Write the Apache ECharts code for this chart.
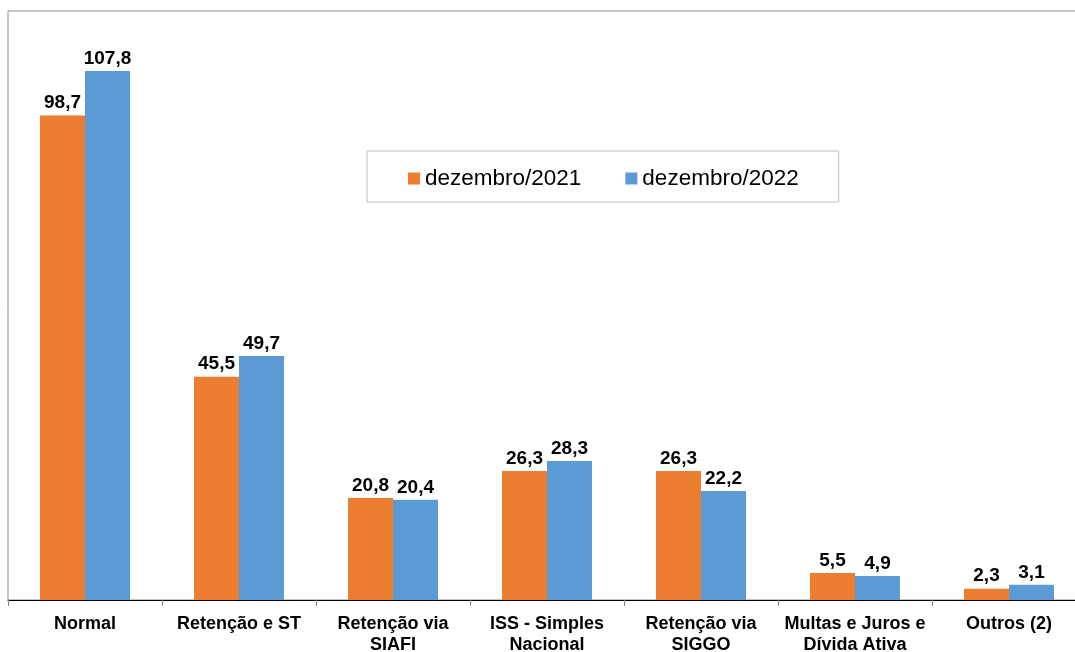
<!DOCTYPE html>
<html>
<head>
<meta charset="utf-8">
<script src="https://cdn.jsdelivr.net/npm/echarts@6/dist/echarts.min.js"></script>
<style>
  html, body { margin: 0; padding: 0; background: #fff; }
  #chart { width: 1075px; height: 652px; }
</style>
</head>
<body>
<div id="chart"></div>
<script>
var categories = ['Normal', 'Retenção e ST', 'Retenção via\nSIAFI', 'ISS - Simples\nNacional', 'Retenção via\nSIGGO', 'Multas e Juros e\nDívida Ativa', 'Outros (2)'];
var dez2021 = [98.7, 45.5, 20.8, 26.3, 26.3, 5.5, 2.3];
var dez2022 = [107.8, 49.7, 20.4, 28.3, 22.2, 4.9, 3.1];

var chartDom = document.getElementById('chart');
var myChart = echarts.init(chartDom);
var option;

function fmt(p) {
  return p.value.toFixed(1).replace('.', ',');
}

var labelStyle = {
  show: true,
  position: 'top',
  distance: 3,
  formatter: fmt,
  color: '#000',
  fontSize: 19,
  fontWeight: 'bold',
  fontFamily: 'Liberation Sans, Arial, sans-serif'
};

option = {
  animation: false,
  grid: {
    left: 8,
    top: 11,
    width: 1078,
    height: 589,
    outerBoundsMode: 'none',
    containLabel: false,
    show: true,
    borderColor: '#8c8c8c',
    borderWidth: 1
  },
  legend: {
    left: 367,
    top: 151,
    padding: [16, 40, 12, 41],
    borderColor: '#bfbfbf',
    borderWidth: 1,
    backgroundColor: '#fff',
    itemWidth: 12,
    itemHeight: 12,
    itemGap: 44,
    icon: 'rect',
    textStyle: {
      color: '#000',
      fontSize: 22.5,
      fontFamily: 'Liberation Sans, Arial, sans-serif'
    },
    data: ['dezembro/2021', 'dezembro/2022']
  },
  xAxis: {
    type: 'category',
    data: categories,
    axisLine: { lineStyle: { color: '#000', width: 1 } },
    axisTick: { show: true, length: 6, lineStyle: { color: '#888' } },
    axisLabel: {
      color: '#000',
      fontSize: 18,
      fontWeight: 'bold',
      fontFamily: 'Liberation Sans, Arial, sans-serif',
      margin: 14,
      lineHeight: 21,
      interval: 0
    }
  },
  yAxis: {
    type: 'value',
    min: 0,
    max: 120,
    axisLine: { show: false },
    axisTick: { show: false },
    axisLabel: { show: false },
    splitLine: { show: false }
  },
  series: [
    {
      name: 'dezembro/2021',
      type: 'bar',
      data: dez2021,
      barWidth: 45,
      barGap: '0%',
      itemStyle: { color: '#ED7D31' },
      label: labelStyle
    },
    {
      name: 'dezembro/2022',
      type: 'bar',
      data: dez2022,
      barWidth: 45,
      barGap: '0%',
      itemStyle: { color: '#5B9BD5' },
      label: labelStyle
    }
  ]
};

option && myChart.setOption(option);
</script>
</body>
</html>
